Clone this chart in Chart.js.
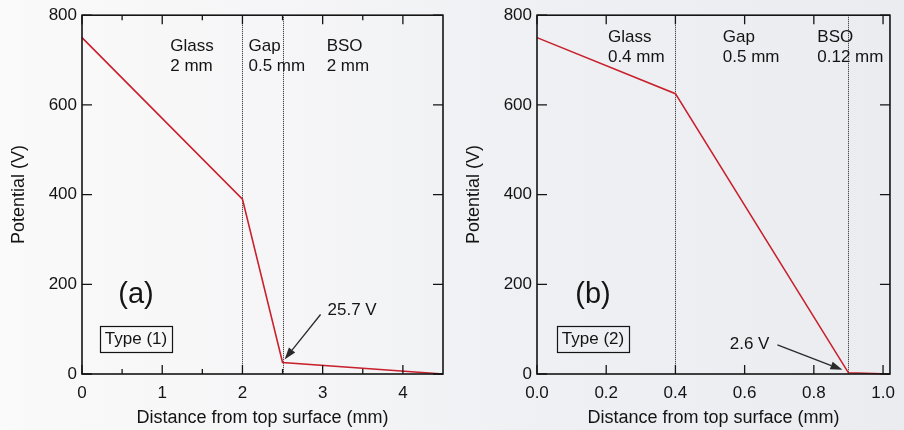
<!DOCTYPE html>
<html>
<head>
<meta charset="utf-8">
<script src="https://cdn.jsdelivr.net/npm/chart.js@4.4.1/dist/chart.umd.min.js"></script>
<style>
  body { margin: 0; width: 904px; height: 430px; overflow: hidden;
         background: linear-gradient(90deg, #fafafa 0%, #f5f5f7 35%, #eef0f3 60%, #eaecf0 100%); }
  .panel { position: absolute; top: 0; width: 452px; height: 430px; }
</style>
</head>
<body>
<div class="panel" style="left:0"><canvas id="chartA" width="452" height="430"></canvas></div>
<div class="panel" style="left:452px"><canvas id="chartB" width="452" height="430"></canvas></div>
<script>
const FONT = "'Liberation Sans', Arial, Helvetica, sans-serif";
const INK = "#141414";

const potentialTicks = [0, 200, 400, 600, 800];
const layerNames = ["Glass", "Gap", "BSO"];

// Type (1): glass 2 mm, gap 0.5 mm, BSO 2 mm
const depthA = [0, 2, 2.5, 4.5];
const potentialA = [750, 390, 25.7, 0];
const thicknessA = ["2 mm", "0.5 mm", "2 mm"];
const depthTicksA = [0, 1, 2, 3, 4];
const depthMinorA = [0.5, 1.5, 2.5, 3.5];

// Type (2): glass 0.4 mm, gap 0.5 mm, BSO 0.12 mm
const depthB = [0, 0.4, 0.9, 1.02];
const potentialB = [750, 625, 2.6, 0];
const thicknessB = ["0.4 mm", "0.5 mm", "0.12 mm"];
const depthTicksB = [0, 0.2, 0.4, 0.6, 0.8, 1.0];
const depthMinorB = [];

function arrow(ctx, x0, y0, x1, y1) {
  const ang = Math.atan2(y1 - y0, x1 - x0), len = 12, half = 4;
  const bx = x1 - len * Math.cos(ang), by = y1 - len * Math.sin(ang);
  ctx.beginPath(); ctx.moveTo(x0, y0); ctx.lineTo(bx, by); ctx.stroke();
  ctx.beginPath();
  ctx.moveTo(x1, y1);
  ctx.lineTo(bx + half * Math.sin(ang), by - half * Math.cos(ang));
  ctx.lineTo(bx - half * Math.sin(ang), by + half * Math.cos(ang));
  ctx.closePath(); ctx.fill();
}

const panelDecor = {
  id: "panelDecor",
  beforeDatasetsDraw(chart, args, o) {
    const { ctx, chartArea: a, scales: { x } } = chart;
    ctx.save();
    ctx.strokeStyle = "#222";
    ctx.lineWidth = 1;
    ctx.setLineDash([1, 1]);
    o.boundaries.forEach(b => {
      const px = Math.round(x.getPixelForValue(b)) + 0.5;
      ctx.beginPath(); ctx.moveTo(px, a.top); ctx.lineTo(px, a.bottom); ctx.stroke();
    });
    ctx.restore();
  },
  afterDraw(chart, args, o) {
    const { ctx, chartArea: a, scales: { x, y } } = chart;
    ctx.save();
    ctx.strokeStyle = INK;
    ctx.fillStyle = INK;

    // frame and inward ticks on all four sides
    ctx.lineWidth = 1.6;
    ctx.strokeRect(a.left, a.top, a.right - a.left, a.bottom - a.top);
    ctx.lineWidth = 1.3;
    const tickX = (v, len) => {
      const px = x.getPixelForValue(v);
      ctx.beginPath();
      ctx.moveTo(px, a.bottom); ctx.lineTo(px, a.bottom - len);
      ctx.moveTo(px, a.top); ctx.lineTo(px, a.top + len);
      ctx.stroke();
    };
    o.major.forEach(v => tickX(v, 9));
    o.minor.forEach(v => tickX(v, 5));
    potentialTicks.forEach(v => {
      const py = y.getPixelForValue(v);
      ctx.beginPath();
      ctx.moveTo(a.left, py); ctx.lineTo(a.left + 10, py);
      ctx.moveTo(a.right, py); ctx.lineTo(a.right - 10, py);
      ctx.stroke();
    });

    // axis titles
    ctx.font = "18px " + FONT;
    ctx.textAlign = "center";
    ctx.textBaseline = "middle";
    ctx.fillText("Distance from top surface (mm)", (a.left + a.right) / 2, 418);
    ctx.save();
    ctx.translate(o.yTitleX, (a.top + a.bottom) / 2);
    ctx.rotate(-Math.PI / 2);
    ctx.fillText("Potential (V)", 0, 0);
    ctx.restore();

    // layer names and thicknesses
    ctx.font = "17px " + FONT;
    ctx.textAlign = "left";
    layerNames.forEach((n, i) => {
      const px = x.getPixelForValue(o.layerAt[i]);
      ctx.fillText(n, px, o.layerY);
      ctx.fillText(o.thickness[i], px, o.layerY + 20);
    });

    // panel letter and type box
    const cx = a.left + o.tagDx;
    ctx.textAlign = "center";
    ctx.font = "29px " + FONT;
    ctx.fillText(o.letter, cx, 295);
    ctx.font = "17px " + FONT;
    ctx.fillText(o.type, cx, 339.5);
    const w = ctx.measureText(o.type).width + 10;
    ctx.lineWidth = 1.2;
    ctx.strokeRect(Math.round(cx - w / 2) + 0.5, 326.5, Math.round(w), 26);

    // value at the gap / BSO interface
    const ds = chart.data.datasets[0].data[o.note.index];
    const px = x.getPixelForValue(ds.x), py = y.getPixelForValue(ds.y);
    const tx = px + o.note.tail[0], ty = py + o.note.tail[1];
    ctx.lineWidth = 1.3;
    ctx.strokeStyle = "#2a2a2a"; ctx.fillStyle = "#2a2a2a";
    arrow(ctx, tx, ty, px + o.note.tip[0], py + o.note.tip[1]);
    ctx.fillStyle = INK;
    ctx.textAlign = o.note.align;
    ctx.fillText(ds.y.toFixed(1) + " V", tx + o.note.text[0], ty + o.note.text[1]);
    ctx.restore();
  }
};

function makeChart(id, depth, potential, xmax, major, minor, fmt, deco, yWidth, rightPad) {
  return new Chart(id, {
    type: "scatter",
    data: {
      datasets: [{
        data: depth.map((d, i) => ({ x: d, y: potential[i] })),
        showLine: true,
        borderColor: "#c8202c",
        borderWidth: 1.6,
        pointRadius: 0,
        tension: 0,
        clip: false
      }]
    },
    options: {
      responsive: false,
      animation: false,
      layout: { padding: { top: 15, right: rightPad, left: 0, bottom: 0 } },
      plugins: { legend: { display: false }, tooltip: { enabled: false }, panelDecor: deco },
      scales: {
        x: {
          type: "linear", min: 0, max: xmax,
          grid: { display: false, drawTicks: false }, border: { display: false },
          afterBuildTicks: s => { s.ticks = major.map(v => ({ value: v })); },
          afterFit: s => { s.height = 56; },
          ticks: { padding: 9, color: INK, font: { family: FONT, size: 17 }, maxRotation: 0, callback: fmt }
        },
        y: {
          type: "linear", min: 0, max: 800,
          grid: { display: false, drawTicks: false }, border: { display: false },
          afterBuildTicks: s => { s.ticks = potentialTicks.map(v => ({ value: v })); },
          afterFit: s => { s.width = yWidth; },
          ticks: { padding: 5, color: INK, font: { family: FONT, size: 17 } }
        }
      }
    },
    plugins: [panelDecor]
  });
}

makeChart("chartA", depthA, potentialA, 4.5, depthTicksA, depthMinorA, v => String(v), {
  boundaries: [depthA[1], depthA[2]],
  major: depthTicksA, minor: depthMinorA,
  thickness: thicknessA, layerAt: [1.1, 2.075, 3.05], layerY: 46,
  letter: "(a)", type: "Type (1)", tagDx: 54, yTitleX: 19,
  note: { index: 2, tip: [2, -3], tail: [38, -48], text: [7, -4], align: "left" }
}, 82, 9);

makeChart("chartB", depthB, potentialB, 1.02, depthTicksB, depthMinorB, v => v.toFixed(1), {
  boundaries: [depthB[1], depthB[2]],
  major: depthTicksB, minor: depthMinorB,
  thickness: thicknessB, layerAt: [0.205, 0.537, 0.81], layerY: 37,
  letter: "(b)", type: "Type (2)", tagDx: 56, yTitleX: 22,
  note: { index: 2, tip: [-6, -3], tail: [-71, -28], text: [-8, -1], align: "right" }
}, 85, 7);
</script>
</body>
</html>
